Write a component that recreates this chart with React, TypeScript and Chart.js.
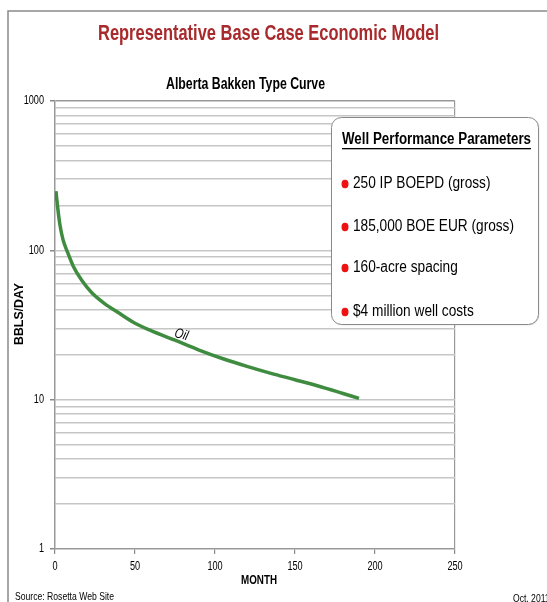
import React, { useEffect, useRef } from "react";
import { Chart, registerables } from "chart.js";

Chart.register(...registerables);

const months = [0.6, 1.5, 3, 5, 7.7, 11.5, 16.7, 23, 31, 40, 50, 60, 75, 90, 105, 120, 135, 150, 165, 180, 190];
const oilRates = [249, 201, 150, 118, 98, 78, 63, 52, 44, 38, 32.5, 29, 25, 21.5, 18.8, 16.7, 15, 13.6, 12.3, 11, 10.2];
const yGridValues = [1, 2, 3, 4, 5, 6, 7, 8, 9, 10, 20, 30, 40, 50, 60, 70, 80, 90, 100, 200, 300, 400, 500, 600, 700, 800, 900, 1000];
const yMajorTicks = [1, 10, 100, 1000];
const xTicks = [0, 50, 100, 150, 200, 250];
const params = ["250 IP BOEPD (gross)", "185,000 BOE EUR (gross)", "160-acre spacing", "$4 million well costs"];
const mainTitle = "Representative Base Case Economic Model";
const chartTitle = "Alberta Bakken Type Curve";
const paramsTitle = "Well Performance Parameters";
const seriesLabel = "Oil";
const seriesLabelAt = { x: 79, y: 27.2 };
const xTitle = "MONTH";
const yTitle = "BBLS/DAY";
const sourceText = "Source: Rosetta Web Site";
const dateText = "Oct. 2011";

const FONT = '"Liberation Sans", Arial, sans-serif';

function drawText(
  ctx: CanvasRenderingContext2D,
  text: string,
  x: number,
  y: number,
  sx: number,
  align: CanvasTextAlign = "left"
) {
  ctx.save();
  ctx.translate(x, y);
  ctx.scale(sx, 1);
  ctx.textAlign = align;
  ctx.fillText(text, 0, 0);
  ctx.restore();
}

function fitScale(ctx: CanvasRenderingContext2D, text: string, width: number) {
  return width / ctx.measureText(text).width;
}

const overlay = {
  id: "overlay",
  afterDraw(chart: any) {
    const ctx = chart.ctx as CanvasRenderingContext2D;
    const xs = chart.scales.x, ys = chart.scales.y;
    ctx.save();
    ctx.textBaseline = "middle";
    // outer frame
    ctx.strokeStyle = "#8a8a8a";
    ctx.lineWidth = 1.5;
    ctx.beginPath();
    ctx.moveTo(8, 602);
    ctx.lineTo(8, 11);
    ctx.lineTo(547, 11);
    ctx.stroke();

    // main title
    ctx.fillStyle = "#a82a2c";
    ctx.font = `bold 22px ${FONT}`;
    drawText(ctx, mainTitle, 268.5, 34, fitScale(ctx, mainTitle, 341), "center");

    // chart title
    ctx.fillStyle = "#000";
    ctx.font = `bold 16px ${FONT}`;
    drawText(ctx, chartTitle, 245.5, 85, fitScale(ctx, chartTitle, 159), "center");

    // tick labels
    ctx.font = `12.5px ${FONT}`;
    yMajorTicks.forEach((v) => {
      drawText(ctx, String(v), 44, ys.getPixelForValue(v), 0.73, "right");
    });
    xTicks.forEach((v) => {
      drawText(ctx, String(v), xs.getPixelForValue(v), 567, 0.73, "center");
    });

    // axis titles
    ctx.font = `bold 12px ${FONT}`;
    drawText(ctx, xTitle, 259, 581, fitScale(ctx, xTitle, 36), "center");
    ctx.save();
    ctx.translate(20, 314);
    ctx.rotate(-Math.PI / 2);
    drawText(ctx, yTitle, 0, 0, fitScale(ctx, yTitle, 62), "center");
    ctx.restore();

    // source / date
    ctx.font = `11px ${FONT}`;
    drawText(ctx, sourceText, 15, 597, fitScale(ctx, sourceText, 99), "left");
    drawText(ctx, dateText, 513, 599, 0.78, "left");

    // series label
    ctx.save();
    ctx.translate(xs.getPixelForValue(seriesLabelAt.x), ys.getPixelForValue(seriesLabelAt.y));
    ctx.rotate((15 * Math.PI) / 180);
    ctx.font = `italic 14px ${FONT}`;
    drawText(ctx, seriesLabel, 0, 0, 0.8, "center");
    ctx.restore();

    // params box
    const bx = 331, by = 117, bw = 207, bh = 207, r = 10;
    ctx.save();
    ctx.shadowColor = "rgba(0,0,0,0.15)";
    ctx.shadowBlur = 2;
    ctx.shadowOffsetX = 1;
    ctx.shadowOffsetY = 1;
    ctx.fillStyle = "#fff";
    ctx.beginPath();
    ctx.roundRect(bx, by, bw, bh, r);
    ctx.fill();
    ctx.restore();
    ctx.strokeStyle = "#8a8a8a";
    ctx.lineWidth = 1;
    ctx.beginPath();
    ctx.roundRect(bx + 0.5, by + 0.5, bw, bh, r);
    ctx.stroke();

    ctx.fillStyle = "#000";
    ctx.font = `bold 16px ${FONT}`;
    drawText(ctx, paramsTitle, 342, 140, fitScale(ctx, paramsTitle, 189), "left");
    ctx.fillRect(342, 148, 189, 1.3);

    ctx.font = `16px ${FONT}`;
    const bulletScale = fitScale(ctx, params[1], 161);
    const rowY = [184, 227, 268, 312];
    params.forEach((p, i) => {
      ctx.fillStyle = "#ee1111";
      ctx.beginPath();
      ctx.ellipse(345, rowY[i], 3.5, 4.2, 0, 0, Math.PI * 2);
      ctx.fill();
      ctx.fillStyle = "#000";
      drawText(ctx, p, 353, rowY[i], bulletScale, "left");
    });
    ctx.restore();
  },
};

export default function App() {
  const ref = useRef<HTMLCanvasElement>(null);
  useEffect(() => {
    document.body.style.margin = "0";
    const chart = new Chart(ref.current!, {
      type: "line",
      data: {
        datasets: [
          {
            label: seriesLabel,
            data: months.map((m, i) => ({ x: m, y: oilRates[i] })),
            borderColor: "#3f8c40",
            borderWidth: 3.5,
            pointRadius: 0,
            cubicInterpolationMode: "monotone",
            fill: false,
          },
        ],
      },
      options: {
        animation: false,
        responsive: false,
        devicePixelRatio: 1,
        layout: { padding: { left: 0, top: 101, right: 92, bottom: 0 } },
        plugins: { legend: { display: false }, tooltip: { enabled: false }, title: { display: false } },
        scales: {
          x: {
            type: "linear",
            min: 0,
            max: 250,
            afterFit: (s: any) => { s.height = 53; },
            afterBuildTicks: (s: any) => { s.ticks = xTicks.map((v) => ({ value: v })); },
            ticks: { font: { family: FONT, size: 12 }, color: "#000", padding: 5, autoSkip: false, maxRotation: 0, callback: () => "" },
            grid: {
              drawOnChartArea: true,
              color: (c: any) => (c.tick && c.tick.value === 250 ? "#999" : "rgba(0,0,0,0)"),
              tickColor: "#888",
              tickLength: 5,
              lineWidth: 1.2,
            },
            border: { display: true, color: "#999", width: 1.5 },
          },
          y: {
            type: "logarithmic",
            min: 1,
            max: 1000,
            afterFit: (s: any) => { s.width = 55; },
            afterBuildTicks: (s: any) => { s.ticks = yGridValues.map((v) => ({ value: v })); },
            ticks: { font: { family: FONT, size: 12 }, color: "#000", padding: 6, autoSkip: false, callback: () => "" },
            grid: {
              color: (c: any) => (c.tick && c.tick.value === 1000 ? "#999" : c.tick && c.tick.value === 1 ? "rgba(0,0,0,0)" : "#c6c6c6"),
              tickColor: (c: any) => (c.tick && yMajorTicks.includes(c.tick.value) ? "#888" : "rgba(0,0,0,0)"),
              tickLength: 5,
              lineWidth: 1.5,
            },
            border: { display: true, color: "#999", width: 1.5 },
          },
        },
      },
      plugins: [overlay],
    } as any);
    return () => chart.destroy();
  }, []);
  return (
    <div style={{ position: "absolute", left: 0, top: 0, width: 547, height: 602 }}>
      <canvas ref={ref} width={547} height={602} />
    </div>
  );
}
